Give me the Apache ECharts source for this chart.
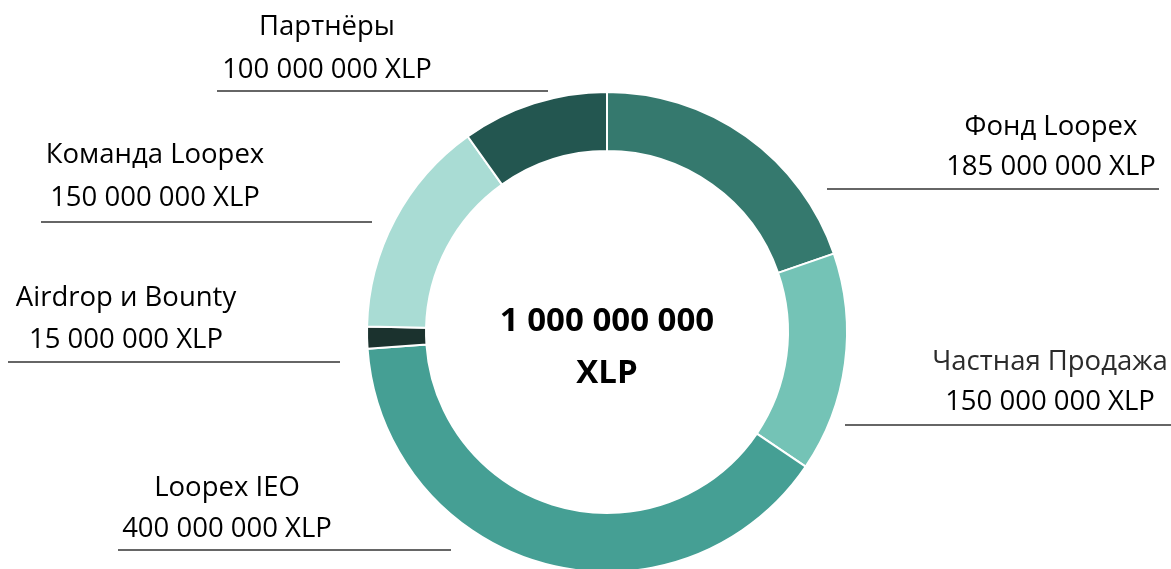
<!DOCTYPE html>
<html>
<head>
<meta charset="utf-8">
<script src="https://cdn.jsdelivr.net/npm/echarts@6/dist/echarts.min.js"></script>
<style>
  html, body { margin: 0; padding: 0; background: #fff; }
  #main { width: 1171px; height: 569px; }
</style>
</head>
<body>
<div id="main"></div>
<script>
// данные распределения токенов
var names = ['Фонд Loopex', 'Частная Продажа', 'Loopex IEO', 'Airdrop и Bounty', 'Команда Loopex', 'Партнёры'];
// подписи
var values = [185000000, 150000000, 400000000, 15000000, 150000000, 100000000];
// размеры секторов, как они нарисованы на картинке (Фонд там ~200 млн)
var sliceValues = [200000000, 150000000, 400000000, 15000000, 150000000, 100000000];
var colors = ['#35796e', '#74c3b6', '#459f94', '#1b322e', '#a9dcd4', '#235650'];
var totalText = ['1 000 000 000', 'XLP'];

// где стоят подписи (центр текста, строки, линия под ним)
var labelPos = [
  { cx: 1051, y1: 127, y2: 167, lx1: 827, lx2: 1159, ly: 189 },
  { cx: 1050, y1: 362, y2: 402, lx1: 845, lx2: 1171, ly: 425 },
  { cx: 227,  y1: 488, y2: 529, lx1: 118, lx2: 451,  ly: 550 },
  { cx: 126,  y1: 298, y2: 340, lx1: 8,   lx2: 340,  ly: 362 },
  { cx: 155,  y1: 155, y2: 198, lx1: 41,  lx2: 372,  ly: 222 },
  { cx: 327,  y1: 27,  y2: 70,  lx1: 217, lx2: 548,  ly: 91 }
];

function fmt(v) {
  return String(v).replace(/\B(?=(\d{3})+(?!\d))/g, ' ') + ' XLP';
}

var chart = echarts.init(document.getElementById('main'));

var graphics = [];
names.forEach(function (n, i) {
  var p = labelPos[i];
  graphics.push({
    type: 'text', x: p.cx, y: p.y1,
    style: { text: n, fill: i === 1 ? '#2b2b2b' : '#000', font: '27.5px "Open Sans"', textAlign: 'center', textVerticalAlign: 'middle' }
  });
  graphics.push({
    type: 'text', x: p.cx, y: p.y2,
    style: { text: fmt(values[i]), fill: '#000', font: '27.5px "Open Sans"', textAlign: 'center', textVerticalAlign: 'middle' }
  });
  graphics.push({
    type: 'line',
    shape: { x1: p.lx1, y1: p.ly, x2: p.lx2, y2: p.ly },
    style: { stroke: '#333', lineWidth: 1.6 }
  });
});
graphics.push({
  type: 'text', x: 607, y: 322,
  style: { text: totalText[0], fill: '#000', font: 'bold 33px "Open Sans"', textAlign: 'center', textVerticalAlign: 'middle' }
});
graphics.push({
  type: 'text', x: 607, y: 374,
  style: { text: totalText[1], fill: '#000', font: 'bold 33px "Open Sans"', textAlign: 'center', textVerticalAlign: 'middle' }
});

chart.setOption({
  animation: false,
  color: colors,
  series: [{
    type: 'pie',
    center: [607, 332],
    radius: [181, 240],
    startAngle: 90,
    clockwise: true,
    label: { show: false },
    labelLine: { show: false },
    itemStyle: { borderColor: '#fff', borderWidth: 2 },
    emphasis: { disabled: true },
    data: names.map(function (n, i) { return { name: n, value: sliceValues[i] }; })
  }],
  graphic: graphics
});
</script>
</body>
</html>
